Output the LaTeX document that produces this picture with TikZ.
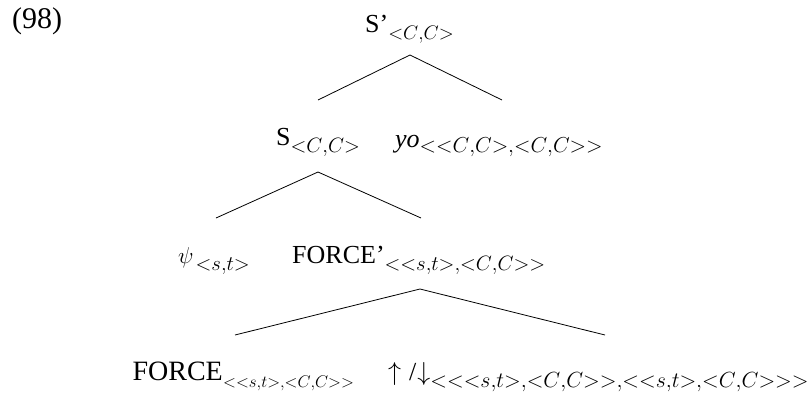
\RequirePackage{fix-cm}
\documentclass[tikz,border=0pt]{standalone}
\usepackage{fontspec}
\setmainfont{Liberation Serif}
\newcommand{\sbx}[2][20.74]{\raisebox{-7pt}{\fontsize{#1}{22}\selectfont$#2$}}
\tikzset{
  lab/.style={anchor=base west, inner sep=0pt, font=\fontsize{26}{28}\selectfont},
  num/.style={anchor=base west, inner sep=0pt, font=\fontsize{30}{32}\selectfont},
  branch/.style={line width=0.8pt, line join=miter}
}
\begin{document}
\begin{tikzpicture}[x=1pt,y=-1pt]
\useasboundingbox (0,0) rectangle (811,392);
\node[num] (ex) at (12,28) {(98)};
\node[lab] (sp) at (365,32) {S’\sbx[19.6]{{<}C{,}C{>}}};
\coordinate (a1) at (410,55);
\coordinate (l1) at (318,100);
\coordinate (r1) at (502,100);
\node[lab] (s) at (276,145) {S\sbx{{<}C{,}C{>}}};
\node[lab] (yo) at (395,147) {\textit{yo}\raisebox{2pt}{\sbx[21.6]{{<}{<}C{,}C{>}{,}{<}C{,}C{>}{>}}}};
\coordinate (a2) at (318,172);
\coordinate (l2) at (216,218);
\coordinate (r2) at (421,218);
\node[lab] (psi) at (178,263) {\fontsize{23}{25}\selectfont$\psi$\hspace{2pt}\sbx{{<}s{,}t{>}}};
\node[lab] (fp) at (292,263) {FORCE’\sbx{{<}{<}s{,}t{>}{,}{<}C{,}C{>}{>}}};
\coordinate (a3) at (420,289);
\coordinate (l3) at (235,335);
\coordinate (r3) at (605,335);
\node[lab, anchor=base east, font=\fontsize{28}{30}\selectfont] (f) at (223,380) {FORCE};
\node[lab] (fs) at (f.base east) {\sbx[16.9]{{<}{<}s{,}t{>}{,}{<}C{,}C{>}{>}}};
\node[lab] (ar) at (388,380) {$\uparrow$\hspace{8pt}/\hspace{1pt}$\downarrow$\sbx[21.9]{{<}{<}{<}s{,}t{>}{,}{<}C{,}C{>}{>}{,}{<}{<}s{,}t{>}{,}{<}C{,}C{>}{>}{>}}};
\draw[branch] (l1) -- (a1) -- (r1);
\draw[branch] (l2) -- (a2) -- (r2);
\draw[branch] (l3) -- (a3) -- (r3);
\end{tikzpicture}
\end{document}
